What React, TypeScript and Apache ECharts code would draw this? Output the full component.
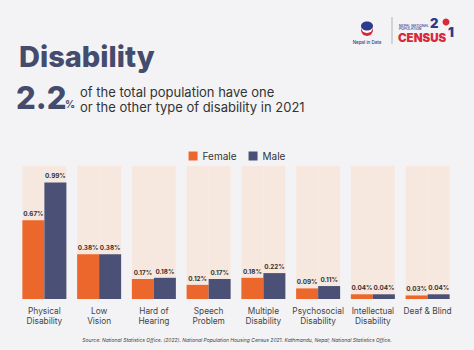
import React, { useEffect, useRef } from "react";
import * as echarts from "echarts";

const categories = [
  "Physical\nDisability",
  "Low\nVision",
  "Hard of\nHearing",
  "Speech\nProblem",
  "Multiple\nDisability",
  "Psychosocial\nDisability",
  "Intellectual\nDisability",
  "Deaf & Blind",
];
const female = [0.67, 0.38, 0.17, 0.12, 0.18, 0.09, 0.04, 0.03];
const male = [0.99, 0.38, 0.18, 0.17, 0.22, 0.11, 0.04, 0.04];

const ORANGE = "#ec672c";
const NAVY = "#4b5077";
const PEACH = "#f7e8df";
const TITLE = "#454b6c";

export default function App() {
  const ref = useRef<HTMLDivElement>(null);
  useEffect(() => {
    document.body.style.margin = "0";
    const chart = echarts.init(ref.current!, null, { renderer: "svg" });
    const label = {
      show: true,
      position: "top" as const,
      distance: 3,
      fontSize: 6.3,
      fontWeight: "bold" as const,
      color: "#333",
      fontFamily: "Inter",
      formatter: (p: any) => p.value + "%",
    };
    chart.setOption({
      animation: false,
      backgroundColor: "#f3f3f5",
      textStyle: { fontFamily: "Inter" },
      legend: {
        top: 146,
        left: "center",
        itemWidth: 9,
        itemHeight: 9,
        itemGap: 12,
        icon: "rect",
        textStyle: { fontSize: 10, color: "#333", fontFamily: "Inter" },
        data: ["Female", "Male"],
      },
      grid: { left: 17, right: 19, top: 166, bottom: 51 },
      xAxis: {
        type: "category",
        data: categories,
        axisLine: { show: false },
        axisTick: { show: false },
        axisLabel: {
          interval: 0,
          margin: 7,
          fontSize: 8.3,
          lineHeight: 10,
          color: "#444",
          fontFamily: "Inter",
        },
      },
      yAxis: { type: "value", min: 0, max: 1.13, show: false },
      series: [
        {
          name: "Female",
          type: "bar",
          data: female,
          barWidth: 22,
          barGap: "0%",
          itemStyle: { color: ORANGE },
          showBackground: true,
          backgroundStyle: { color: PEACH },
          label,
        },
        {
          name: "Male",
          type: "bar",
          data: male,
          barWidth: 22,
          barGap: "0%",
          itemStyle: { color: NAVY },
          showBackground: true,
          backgroundStyle: { color: PEACH },
          label,
        },
      ],
      graphic: [
        {
          type: "text",
          x: 19,
          y: 42,
          style: { text: "Disability", font: "800 29px Inter", fill: TITLE },
        },
        {
          type: "text",
          x: 16,
          y: 82,
          style: { text: "2.2", font: "800 31px Inter", fill: TITLE },
        },
        {
          type: "text",
          x: 65,
          y: 99,
          style: { text: "%", font: "700 10px Inter", fill: TITLE },
        },
        {
          type: "text",
          x: 80,
          y: 84,
          style: {
            text: "of the total population have one\nor the other type of disability in 2021",
            font: "400 13px Inter",
            lineHeight: 15,
            fill: "#333",
          },
        },
        // Nepal in Data logo
        { type: "rect", shape: { x: 361, y: 28, width: 12, height: 8, r: [0, 0, 6, 6] }, style: { fill: "#d8283a" } },
        { type: "rect", shape: { x: 361, y: 27, width: 12, height: 6, r: [0, 0, 6, 6] }, style: { fill: "#ffffff" } },
        { type: "ellipse", shape: { cx: 367, cy: 26, rx: 6, ry: 4.5 }, style: { fill: "#2c3a8c" } },
        {
          type: "text",
          x: 367,
          y: 40,
          style: { text: "Nepal in Data", font: "500 4.5px Inter", fill: "#2c3a8c", align: "center" },
        },
        { type: "line", shape: { x1: 392, y1: 17, x2: 392, y2: 44 }, style: { stroke: "#999", lineWidth: 0.7 } },
        {
          type: "text",
          x: 399,
          y: 24,
          style: { text: "NEPAL NATIONAL\nPOPULATION", font: "500 3.5px Inter", lineHeight: 3.6, fill: "#2c3a8c" },
        },
        {
          type: "text",
          x: 398,
          y: 32,
          style: { text: "CENSUS", font: "900 11.5px Inter", fill: "#d8283a" },
        },
        {
          type: "text",
          x: 430,
          y: 16,
          style: { text: "2", font: "900 13px Inter", fill: "#2c3a8c" },
        },
        { type: "circle", shape: { cx: 446, cy: 22, r: 3.5 }, style: { fill: "#d8283a" } },
        {
          type: "text",
          x: 448,
          y: 25,
          style: { text: "1", font: "900 13px Inter", fill: "#2c3a8c" },
        },
        {
          type: "text",
          x: 237,
          y: 337,
          style: {
            text: "Source: National Statistics Office. (2022). National Population Housing Census 2021. Kathmandu, Nepal; National Statistics Office.",
            font: "italic 400 5px Inter",
            fill: "#444",
            align: "center",
          },
        },
      ],
    });
    return () => chart.dispose();
  }, []);
  return <div ref={ref} style={{ width: 474, height: 350 }} />;
}
